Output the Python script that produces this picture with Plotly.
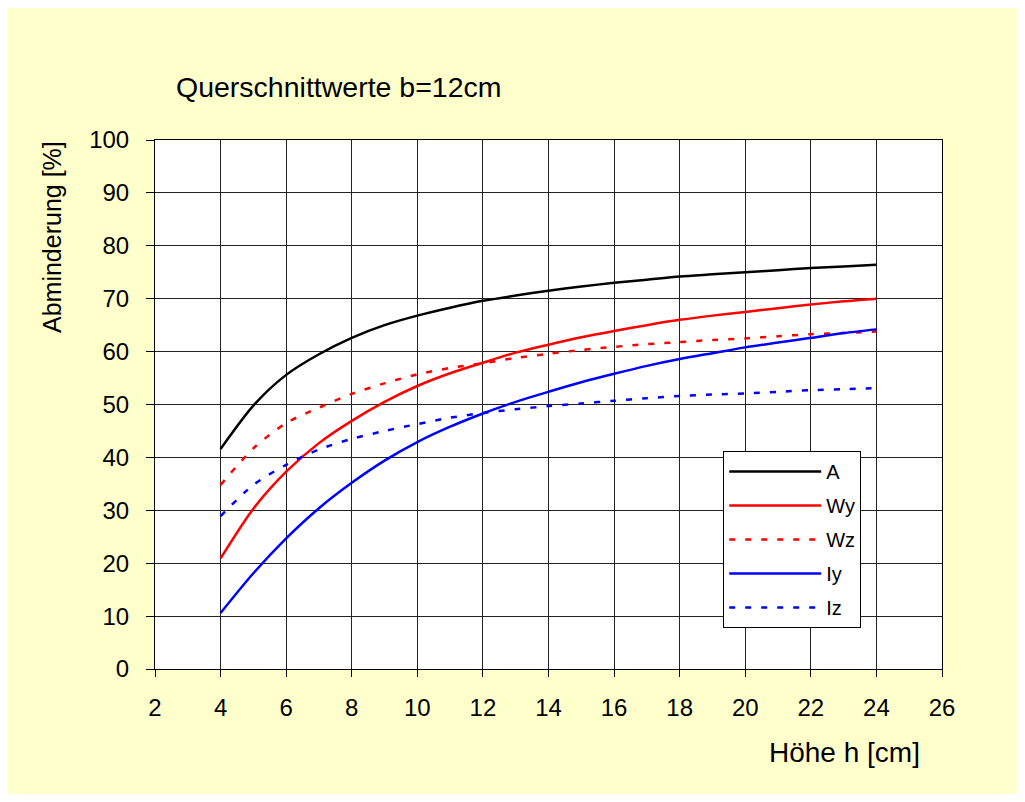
import plotly.graph_objects as go

h = [4, 5, 6, 7, 8, 9, 10, 11, 12, 13, 14, 15, 16, 17, 18, 19, 20, 21, 22, 23, 24]
A = [41.6, 49.8, 55.6, 59.5, 62.6, 65.0, 66.8, 68.3, 69.6, 70.6, 71.5, 72.3, 73.0, 73.6, 74.2, 74.6, 75.0, 75.4, 75.8, 76.1, 76.4]
Wy = [20.9, 30.3, 37.3, 42.7, 46.9, 50.5, 53.5, 55.9, 57.9, 59.8, 61.3, 62.7, 63.9, 65.0, 66.0, 66.8, 67.5, 68.2, 68.9, 69.5, 70.0]
Wz = [34.8, 41.7, 46.5, 49.4, 52.0, 54.0, 55.7, 56.9, 57.8, 58.8, 59.6, 60.3, 60.9, 61.4, 61.8, 62.2, 62.5, 62.9, 63.3, 63.5, 63.8]
Iy = [10.6, 18.1, 24.7, 30.4, 35.2, 39.4, 42.9, 45.8, 48.3, 50.5, 52.4, 54.2, 55.8, 57.3, 58.6, 59.7, 60.8, 61.7, 62.6, 63.5, 64.2]
Iz = [28.9, 34.8, 38.6, 41.5, 43.5, 45.0, 46.3, 47.5, 48.4, 49.1, 49.7, 50.2, 50.7, 51.2, 51.6, 51.9, 52.1, 52.4, 52.7, 52.9, 53.1]

series = [
    ("A", A, "black", "solid"),
    ("Wy", Wy, "#FF0000", "solid"),
    ("Wz", Wz, "#FF0000", "6px,10px"),
    ("Iy", Iy, "#0000FF", "solid"),
    ("Iz", Iz, "#0000FF", "6px,10px"),
]

fig = go.Figure()
for name, vals, col, dash in series:
    fig.add_trace(go.Scatter(
        x=h, y=vals, mode="lines", name=name, legendgroup=name,
        line=dict(color=col, width=2.5, dash=dash, shape="spline", smoothing=0.8),
    ))

FONT = "Liberation Sans, Arial, sans-serif"

fig.update_layout(
    width=1010, height=786,
    margin=dict(l=147, r=76, t=132, b=125),
    paper_bgcolor="#FFFFCC",
    plot_bgcolor="white",
    font=dict(family=FONT, color="black", size=24),
    showlegend=True,
    legend=dict(
        x=0.722, y=0.412, xanchor="left", yanchor="top",
        bgcolor="white", bordercolor="black", borderwidth=1,
        font=dict(size=20, family=FONT, color="black"),
        itemwidth=92, tracegroupgap=5,
    ),
    xaxis=dict(
        range=[2, 26], tickmode="linear", tick0=2, dtick=2,
        showgrid=True, gridcolor="#222222", gridwidth=1,
        showline=True, linecolor="black", linewidth=1, mirror=True,
        ticks="outside", ticklen=7, tickcolor="black",
        ticklabelstandoff=10, zeroline=False,
        tickfont=dict(size=24),
    ),
    yaxis=dict(
        range=[0, 100], tickmode="linear", tick0=0, dtick=10,
        showgrid=True, gridcolor="#222222", gridwidth=1,
        showline=True, linecolor="black", linewidth=1, mirror=True,
        ticks="outside", ticklen=8, tickcolor="black",
        ticklabelstandoff=12, zeroline=False,
        tickfont=dict(size=24),
    ),
    annotations=[
        dict(text="Querschnittwerte b=12cm", xref="paper", yref="paper",
             x=(174 - 155) / 787, y=(669 - 87) / 529, xanchor="left", yanchor="middle",
             showarrow=False, font=dict(size=28.5)),
        dict(text="Höhe h [cm]", xref="paper", yref="paper",
             x=(922 - 155) / 787, y=(669 - 752) / 529, xanchor="right", yanchor="middle",
             showarrow=False, font=dict(size=28)),
        dict(text="Abminderung [%]", xref="paper", yref="paper",
             x=(52 - 155) / 787, y=(669 - 237) / 529, xanchor="center", yanchor="middle",
             textangle=-90, showarrow=False, font=dict(size=25)),
    ],
)

fig.write_html("out.html")
